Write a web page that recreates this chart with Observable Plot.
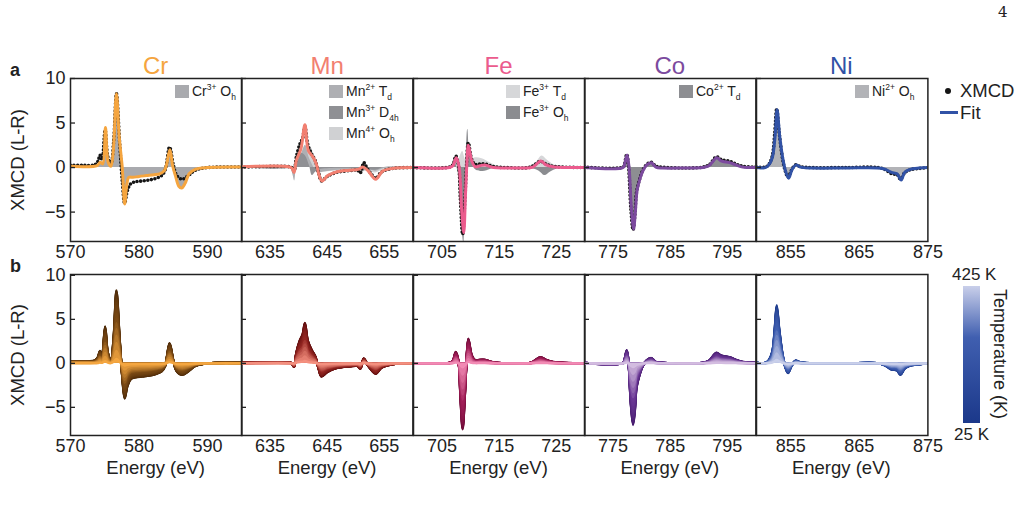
<!DOCTYPE html>
<html>
<head>
<meta charset="utf-8">
<script src="https://cdn.jsdelivr.net/npm/d3@7"></script>
<script src="https://cdn.jsdelivr.net/npm/@observablehq/plot@0.6"></script>
<style>
  body { margin: 0; background: #fff; }
  #fig { position: relative; width: 1025px; height: 510px; font-family: "Liberation Sans", Arial, Helvetica, sans-serif; color: #222; overflow: hidden; }
  #fig .abs { position: absolute; white-space: nowrap; }
  #fig svg { position: absolute; }
  .lg { font-size: 14px; line-height: 14px; }
  .sp { font-size: 8.5px; position: relative; top: -6px; }
  .sb { font-size: 8.5px; position: relative; top: 4px; }
  .sw { position: absolute; width: 14px; height: 13px; }
</style>
</head>
<body>
<div id="fig"></div>
<script>
// ---- spectra: [photon energy (eV), XMCD (L-R)] ----
const crXmcd = [[570,0.25],[572,0.25],[573.5,0.3],[574.0,0.7],[574.3,1.4],[574.6,0.9],[575.05,4.2],[575.45,1.2],[575.9,0.4],[576.3,3.0],[576.7,8.3],[577.15,3.0],[577.55,-1.5],[577.9,-4.0],[578.3,-2.6],[578.8,-1.8],[579.5,-1.6],[580.5,-1.5],[581.5,-1.4],[582.5,-1.2],[583.3,-0.9],[583.8,-0.3],[584.45,2.3],[585.0,0.3],[585.5,-0.9],[586.3,-1.3],[587.2,-0.9],[588.2,-0.3],[590,0.0],[595,0.05]];
const crFit = [[570,0.15],[573.5,0.15],[574.0,0.3],[574.35,0.6],[574.7,0.4],[575.1,4.5],[575.5,0.6],[575.9,0.15],[576.25,2.0],[576.7,8.3],[577.1,3.5],[577.55,0.0],[577.9,-4.1],[578.2,-2.0],[578.5,-1.1],[579.1,-1.1],[580,-1.0],[581.1,-0.9],[582.2,-0.8],[583.0,-0.7],[583.7,-0.35],[584.0,0.3],[584.5,2.0],[584.9,0.2],[585.3,-0.9],[585.8,-2.1],[586.2,-2.3],[586.7,-1.8],[587.3,-0.7],[588.2,-0.2],[590,0],[595,0.05]];

const mnXmcd = [[630,0.05],[638.3,0.1],[638.8,0.0],[639.2,-0.4],[639.6,1.2],[640.2,2.6],[640.7,3.3],[641.1,4.6],[641.6,2.6],[642.3,1.5],[642.9,0.8],[643.5,-0.6],[644.0,-1.5],[645.0,-1.0],[646.6,-0.55],[648.9,-0.35],[650.3,-0.3],[650.8,-0.6],[651.4,0.55],[652.0,-0.1],[652.8,-0.8],[653.5,-1.2],[654.5,-0.5],[656.4,-0.1],[660,0]];
const mnFit = [[630,0.1],[638.3,0.1],[638.8,-0.05],[639.2,-0.55],[639.6,0.8],[640.4,2.1],[641.1,4.8],[641.7,1.9],[642.5,1.2],[643.1,0.4],[643.6,-0.9],[644.1,-1.5],[645.1,-0.9],[646.6,-0.5],[648.9,-0.3],[650.4,-0.2],[651.3,0.05],[652.2,-0.4],[653.5,-1.3],[654.7,-0.4],[656.4,-0.1],[660,0]];
const mnTd = [[630,0],[638.5,0],[639.0,-0.8],[639.3,-1.5],[639.7,0.3],[640.5,1.5],[641.2,2.5],[641.8,1.2],[642.5,0.2],[643.3,-0.6],[644.5,-0.5],[647,-0.3],[650.5,-0.25],[651.3,-0.5],[652,-0.2],[653.5,-0.4],[655,-0.1],[660,0]];
const mnD4h = [[630,0],[639,0],[639.8,0.6],[640.5,1.6],[641.2,1.3],[641.9,0.2],[642.4,-0.9],[643,-0.5],[644,-0.2],[650,-0.1],[653.5,-0.3],[655,0],[660,0]];
const mnOh = [[630,0],[639.5,0],[640.5,0.6],[641.5,1.8],[642.2,2.2],[642.8,0.8],[643.5,-0.4],[646,-0.4],[649,-0.3],[651,-0.3],[653.5,-0.6],[655,-0.2],[660,0]];

const feXmcd = [[700,0],[706.3,0.05],[706.9,0.3],[707.4,1.3],[707.9,0.1],[708.2,-3.5],[708.6,-7.5],[709.0,-3.5],[709.3,0.5],[709.6,2.8],[710.2,0.9],[710.8,0.35],[711.6,0.4],[712.5,0.4],[714,0.1],[716.3,0],[720.5,0.05],[722.2,0.7],[723.2,0.4],[724.4,0.15],[730,0]];
const feFit = [[700,0],[706.3,0],[706.9,0.2],[707.5,1.1],[708.0,0],[708.4,-4.5],[708.8,-7.3],[709.1,-3.0],[709.35,0.5],[709.6,2.5],[710.2,0.75],[710.8,0.1],[711.6,0.2],[712.5,0.3],[714.0,0],[716.3,-0.05],[719.2,-0.05],[720.9,0.05],[722.3,0.75],[723.2,0.3],[724.4,0.1],[730,0]];
const feTd = [[700,0],[706.5,0],[707.3,0.3],[708.0,1.0],[708.6,1.8],[709.2,0.8],[710.0,0.8],[710.8,1.1],[712,1.0],[713.5,0.5],[715,0.1],[720,0.1],[721.5,0.6],[722.5,1.3],[723.5,0.8],[725,0.2],[730,0]];
const feOh = [[700,0],[706.5,0],[707.2,0.5],[707.8,-0.5],[708.3,-5],[708.8,-8.5],[709.1,-2],[709.5,4.3],[710.0,1.0],[711,-0.3],[712.5,-0.4],[714,-0.1],[720.5,-0.1],[722,-0.4],[723.0,-0.9],[724,-0.5],[725.5,-0.1],[730,0]];

const coXmcd = [[770,0.05],[776.75,0.05],[777.0,0.4],[777.4,1.5],[777.7,0.2],[778.1,-4.5],[778.5,-7.0],[778.8,-5.5],[779.1,-2.8],[779.6,-1.4],[780.2,-0.3],[780.9,0.35],[781.7,0.6],[782.5,0.15],[783.7,0.05],[787.2,-0.05],[790.7,0.05],[791.8,0.3],[793.1,1.2],[793.9,0.9],[795.4,0.7],[796.5,0.4],[797.7,0.15],[800,0.05]];
const coFit = [[770,0],[776.75,0],[777.0,0.35],[777.45,1.4],[777.8,0],[778.2,-4.5],[778.6,-6.9],[778.9,-5],[779.2,-2.6],[779.6,-1.5],[780.2,-0.4],[780.9,0.3],[781.7,0.55],[782.5,0.05],[783.7,-0.05],[787.2,-0.05],[790.7,0],[791.8,0.2],[793.15,1.1],[793.9,0.75],[795.4,0.55],[796.5,0.3],[797.7,0.05],[800,0]];

const niXmcd = [[850,0.05],[851.3,0.05],[851.8,0.35],[852.3,1.3],[852.65,3.8],[852.95,6.6],[853.3,4],[853.8,1.0],[854.2,-0.4],[854.6,-1.1],[855.1,-0.3],[855.7,0.3],[856.4,0.1],[858.1,0],[863,0],[867.8,0],[868.8,-0.25],[869.7,-0.7],[870.5,-0.8],[871.0,-1.3],[871.6,-0.6],[872.4,-0.25],[873.7,-0.1],[875,0]];
const niFit = [[850,0],[851.3,0],[851.8,0.3],[852.3,1.1],[852.7,3.4],[853.0,6.5],[853.4,3.4],[853.9,0.75],[854.3,-0.55],[854.7,-1.2],[855.2,-0.2],[855.8,0.3],[856.4,0.05],[858.1,-0.05],[863,-0.05],[867.8,-0.05],[868.8,-0.2],[869.7,-0.55],[870.5,-0.7],[871.1,-1.4],[871.6,-0.55],[872.4,-0.2],[873.7,-0.05],[875,0]];

// ---- temperature series: relative dichroism amplitude per temperature ----
const temps = [25,50,75,100,125,150,175,200,225,250,275,300,325,350,375,400,425];
const magnet = [1.00,0.985,0.965,0.94,0.91,0.875,0.835,0.79,0.74,0.685,0.62,0.55,0.47,0.38,0.28,0.17,0.06];

// ---- axis ticks ----
const yTicks = [-5, 0, 5, 10];
const elements = ["Cr", "Mn", "Fe", "Co", "Ni"];
const xDomains = [[570,595],[630,660],[700,730],[770,800],[850,875]];
const xTicks = [[570,580,590],[635,645,655],[705,715,725],[775,785,795],[855,865,875]];

// colour stops for the temperature ramps: 25 K, 275 K, 425 K
const rampDomain = [25, 275, 425];
const panels = [
  {fit: crFit, xmcd: crXmcd, color: "#f5a53f", ramp: ["#4a2808", "#7a4914", "#f4a640"],
   comps: [{data: crFit, fill: "#a9aaae"}],
   legend: [["#a9aaae", "Cr", "3+", "O", "h"]]},
  {fit: mnFit, xmcd: mnXmcd, color: "#f27f70", ramp: ["#5a0b0b", "#942622", "#f4907f"],
   comps: [{data: mnOh, fill: "#d0d1d3"}, {data: mnTd, fill: "#aeafb3"}, {data: mnD4h, fill: "#8f9094"}],
   legend: [["#aeafb3", "Mn", "2+", "T", "d"], ["#8f9094", "Mn", "3+", "D", "4h"], ["#d0d1d3", "Mn", "4+", "O", "h"]]},
  {fit: feFit, xmcd: feXmcd, color: "#eb5b8d", ramp: ["#6a0934", "#a01e57", "#f28ab4"],
   comps: [{data: feTd, fill: "#d6d7d9"}, {data: feOh, fill: "#8b8c90"}],
   legend: [["#d6d7d9", "Fe", "3+", "T", "d"], ["#8b8c90", "Fe", "3+", "O", "h"]]},
  {fit: coFit, xmcd: coXmcd, color: "#7c4a9e", ramp: ["#43186a", "#6a3794", "#d3bce0"],
   comps: [{data: coFit, fill: "#8d8e92"}],
   legend: [["#8d8e92", "Co", "2+", "T", "d"]]},
  {fit: niFit, xmcd: niXmcd, color: "#3152a6", ramp: ["#1b388a", "#405fb0", "#c9cfea"],
   comps: [{data: niFit, fill: "#b2b3b7"}],
   legend: [["#b2b3b7", "Ni", "2+", "O", "h"]]}
];

const fig = document.getElementById("fig");
const FONT = '"Liberation Sans", Arial, Helvetica, sans-serif';
const CURVE = "catmull-rom";
const frameLefts = [70, 241.4, 412.8, 584.2, 755.6];
const PW = 171.4;
const rows = [
  {top: 78, h: 163, domain: [-8.3, 10], pad: 4},
  {top: 274, h: 161, domain: [-8.2, 10.1], pad: 4}
];
const M = {top: 10, right: 30, bottom: 40, left: 60};

function addDiv(html, style, cls = "abs") {
  const d = document.createElement("div");
  d.className = cls;
  d.innerHTML = html;
  Object.assign(d.style, style);
  fig.appendChild(d);
  return d;
}

function panelPlot(i, r) {
  const p = panels[i];
  const R = rows[r];
  const X = d => d[0], Y = d => d[1];
  const marks = [];
  if (r === 0) {
    // fitted components as unstacked areas from zero
    for (const c of p.comps)
      marks.push(Plot.areaY(c.data, {x: X, y1: 0, y2: Y, fill: c.fill, curve: CURVE, clip: true}));
    marks.push(Plot.line(p.xmcd, {x: X, y: Y, stroke: "#151515", strokeWidth: 3.6, strokeDasharray: "0 3.6", strokeLinecap: "round", curve: CURVE, clip: true}));
    marks.push(Plot.line(p.fit, {x: X, y: Y, stroke: p.color, strokeWidth: 3, curve: CURVE, clip: true}));
  } else {
    // one curve per temperature, coldest (darkest) first so warmer ones lie on top
    const series = temps.flatMap((t, k) => p.xmcd.map(([e, v]) => ({e, v: v * magnet[k], t})));
    marks.push(Plot.areaY(series, {x: "e", y1: 0, y2: "v", z: "t", fill: "t", curve: CURVE, clip: true}));
    marks.push(Plot.line(series, {x: "e", y: "v", z: "t", stroke: "t", strokeWidth: 2.4, curve: CURVE, clip: true}));
  }
  marks.push(Plot.frame({stroke: "#222", strokeWidth: 1.5}));
  marks.push(Plot.axisX({ticks: xTicks[i], tickSize: 0, tickPadding: R.pad, fontSize: 18, label: null}));
  // inward tick marks on the left edge
  marks.push(Plot.axisY({ticks: yTicks, tickSize: 5, dx: 5, tickFormat: () => "", label: null, strokeWidth: 1.3}));
  if (i === 0)
    marks.push(Plot.axisY({ticks: yTicks, tickSize: 0, tickPadding: 5, fontSize: 18, label: null}));
  const svg = Plot.plot({
    width: PW + M.left + M.right,
    height: R.h + M.top + M.bottom,
    marginTop: M.top, marginRight: M.right, marginBottom: M.bottom, marginLeft: M.left,
    x: {domain: xDomains[i]},
    y: {domain: R.domain},
    color: {type: "linear", domain: rampDomain, range: p.ramp},
    style: {background: "transparent", overflow: "visible", fontFamily: FONT, color: "#222"},
    marks
  });
  svg.style.left = (frameLefts[i] - M.left) + "px";
  svg.style.top = (R.top - M.top) + "px";
  fig.appendChild(svg);
}

for (let r = 0; r < 2; r++)
  for (let i = 0; i < 5; i++) panelPlot(i, r);

// element titles and energy labels
elements.forEach((el, i) => {
  addDiv(el, {left: frameLefts[i] + "px", width: PW + "px", textAlign: "center", top: "52px",
    fontSize: "24px", lineHeight: "28px", color: panels[i].color});
  addDiv("Energy (eV)", {left: frameLefts[i] + "px", width: PW + "px", textAlign: "center", top: "460px",
    fontSize: "18.5px", lineHeight: "16px"});
});

// component legends inside the row-a panels
const legendX = [175, 329, 506, 679, 855];
panels.forEach((p, i) => {
  p.legend.forEach(([fill, ion, ch, sym, site], k) => {
    const top = 85 + k * 21;
    addDiv("", {left: legendX[i] + "px", top: top + "px", background: fill}, "sw");
    addDiv(`${ion}<span class="sp">${ch}</span> ${sym}<span class="sb">${site}</span>`,
      {left: (legendX[i] + 17) + "px", top: (top - 1) + "px"}, "abs lg");
  });
});

// y-axis titles
[160, 355].forEach(cy => {
  addDiv("XMCD (L-R)", {left: "18px", top: cy + "px", fontSize: "18.5px", lineHeight: "20px",
    transform: "translate(-50%,-50%) rotate(-90deg)"});
});

// panel letters and page number
addDiv("a", {left: "10px", top: "60px", fontSize: "18px", fontWeight: "bold", lineHeight: "20px"});
addDiv("b", {left: "10px", top: "256px", fontSize: "18px", fontWeight: "bold", lineHeight: "20px"});
addDiv("4", {left: "998px", top: "3px", fontSize: "15px", fontFamily: '"DejaVu Serif", "Liberation Serif", serif'});

// XMCD / Fit key
addDiv("", {left: "945px", top: "88px", width: "6px", height: "6px", borderRadius: "50%", background: "#151515"});
addDiv("XMCD", {left: "960px", top: "80px", fontSize: "18.5px", lineHeight: "22px"});
addDiv("", {left: "940px", top: "111px", width: "18px", height: "3px", background: panels[4].color});
addDiv("Fit", {left: "960px", top: "102px", fontSize: "18.5px", lineHeight: "22px"});

// temperature colour bar (Ni ramp, 425 K at the top)
const nr = panels[4].ramp;
const midPct = (1 - (rampDomain[1] - rampDomain[0]) / (rampDomain[2] - rampDomain[0])) * 100;
addDiv("", {left: "963px", top: "286px", width: "17px", height: "137px",
  background: `linear-gradient(to bottom, ${nr[2]} 0%, ${nr[1]} ${midPct}%, ${nr[0]} 100%)`});
addDiv("425 K", {left: "952px", top: "265px", fontSize: "17px", lineHeight: "20px"});
addDiv("25 K", {left: "954px", top: "425px", fontSize: "17px", lineHeight: "20px"});
addDiv("Temperature (K)", {left: "1000px", top: "354px", fontSize: "18px", lineHeight: "20px",
  transform: "translate(-50%,-50%) rotate(90deg)"});
</script>
</body>
</html>
